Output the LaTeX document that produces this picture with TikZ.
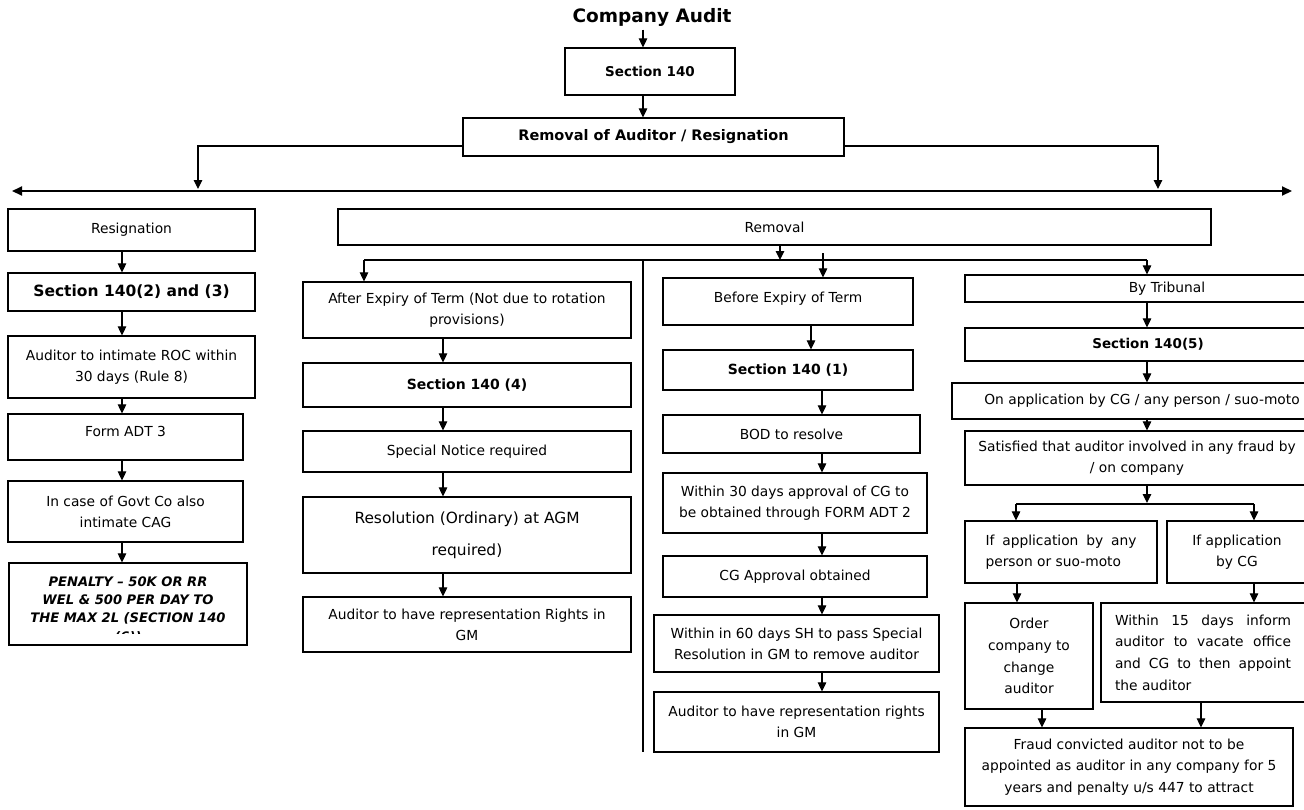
\documentclass[tikz,border=0pt]{standalone}
\usepackage{fontspec}
\setmainfont{DejaVu Sans}
\usetikzlibrary{arrows.meta}
\hyphenpenalty=10000
\exhyphenpenalty=10000
\begin{document}
\begin{tikzpicture}[x=1pt,y=-1pt,
 box/.style={draw,line width=1.2pt,inner sep=2pt,align=center,font=\fontsize{13.8}{21}\selectfont},
 bbox/.style={box,font=\fontsize{14.5}{18}\selectfont\bfseries},
 arr/.style={line width=1.1pt,-{Triangle[width=8.5pt,length=9pt]}},
 ln/.style={line width=1.1pt},
]
\useasboundingbox (0,0) rectangle (1304,809);
\fill[white] (0,0) rectangle (1304,809);

% ---------- top ----------
\node[font=\fontsize{18.5}{22}\selectfont\bfseries] (title) at (652,17) {Company Audit};
\node[bbox,minimum width=170pt,minimum height=47pt,font=\fontsize{13.5}{16}\selectfont\bfseries] (s140) at (650,71.5) {Section 140};
\node[bbox,minimum width=381pt,minimum height=38pt] (rem) at (653.5,137) {Removal of Auditor / Resignation};
\coordinate (tx) at (643,0);
\draw[arr] (title.south -| tx) -- (s140.north -| tx);
\draw[arr] (s140.south -| tx) -- (rem.north -| tx);
\coordinate (lrow) at (0,146);
\coordinate (dtl) at (198,189);
\coordinate (dtr) at (1158,189);
\draw[arr] (rem.west |- lrow) -| (dtl);
\draw[arr] (rem.east |- lrow) -| (dtr);
\coordinate (dl) at (12,191);
\coordinate (dr) at (1292,191);
\draw[line width=2pt,{Triangle[width=9pt,length=10pt]}-{Triangle[width=9pt,length=10pt]}] (dl) -- (dr);

% ---------- resignation column ----------
\coordinate (lx) at (122,0);
\node[box,minimum width=247pt,minimum height=42pt] (resig) at (131.5,230) {Resignation};
\node[bbox,minimum width=247pt,minimum height=38pt,font=\fontsize{15.5}{18}\selectfont\bfseries] (s1402) at (131.5,292) {Section 140(2) and (3)};
\node[box,minimum width=247pt,minimum height=62pt] (intim) at (131.5,367) {Auditor to intimate ROC within\\30 days (Rule 8)};
\node[box,minimum width=235pt,minimum height=46pt,text depth=11pt] (form) at (125.5,437) {Form ADT 3};
\node[box,minimum width=235pt,minimum height=61pt] (govt) at (125.5,511.5) {In case of Govt Co also\\intimate CAG};
\node[box,minimum width=238pt,minimum height=82pt] (pen) at (128,604) {};
\begin{scope}
\clip (pen.north west) rectangle ([yshift=12pt]pen.south east);
\node[font=\fontsize{13.1}{18.3}\selectfont\bfseries\itshape,align=center,anchor=north] (pentxt) at ([yshift=-10.5pt]pen.north) {PENALTY -- 50K OR RR\\WEL \& 500 PER DAY TO\\THE MAX 2L (SECTION 140\\(6))};
\end{scope}
\draw[arr] (resig.south -| lx) -- (s1402.north -| lx);
\draw[arr] (s1402.south -| lx) -- (intim.north -| lx);
\draw[arr] (intim.south -| lx) -- (form.north -| lx);
\draw[arr] (form.south -| lx) -- (govt.north -| lx);
\draw[arr] (govt.south -| lx) -- (pen.north -| lx);

% ---------- removal ----------
\node[box,minimum width=873pt,minimum height=36pt] (remv) at (774.5,227) {Removal};
\coordinate (rs) at (780,260);
\draw[arr] (remv.south -| rs) -- (rs);
\coordinate (ha) at (364,260);
\coordinate (hb) at (1147,260);
\coordinate (hc) at (823,253);
\coordinate (sepT) at (643,260);
\coordinate (sepB) at (643,752);
\draw[ln] (ha) -- (hb);
\draw[ln] (sepT) -- (sepB);

% column A : after expiry
\coordinate (ax) at (443,0);
\node[box,minimum width=328pt,minimum height=56pt] (after) at (467,310) {After Expiry of Term (Not due to rotation\\provisions)};
\node[bbox,minimum width=328pt,minimum height=44pt,font=\fontsize{14}{18}\selectfont\bfseries] (s1404) at (467,385) {Section 140 (4)};
\node[box,minimum width=328pt,minimum height=41pt] (spn) at (467,451.5) {Special Notice required};
\node[box,minimum width=328pt,minimum height=76pt,font=\fontsize{15.4}{32}\selectfont] (resol) at (467,535) {Resolution (Ordinary) at AGM\\required)};
\node[box,minimum width=328pt,minimum height=55pt] (arep) at (467,624.5) {Auditor to have representation Rights in\\GM};
\draw[arr] (ha) -- (after.north -| ha);
\draw[arr] (after.south -| ax) -- (s1404.north -| ax);
\draw[arr] (s1404.south -| ax) -- (spn.north -| ax);
\draw[arr] (spn.south -| ax) -- (resol.north -| ax);
\draw[arr] (resol.south -| ax) -- (arep.north -| ax);

% column B : before expiry
\coordinate (bx1) at (811,0);
\coordinate (bx) at (822,0);
\node[box,minimum width=250pt,minimum height=47pt,text depth=9pt] (before) at (788,301.5) {Before Expiry of Term};
\node[bbox,minimum width=250pt,minimum height=40pt,font=\fontsize{14}{18}\selectfont\bfseries] (s1401) at (788,370) {Section 140 (1)};
\node[box,minimum width=257pt,minimum height=38pt] (bod) at (791.5,434) {BOD to resolve};
\node[box,minimum width=264pt,minimum height=60pt] (w30) at (795,503) {Within 30 days approval of CG to\\be obtained through FORM ADT 2};
\node[box,minimum width=264pt,minimum height=41pt] (cga) at (795,576.5) {CG Approval obtained};
\node[box,minimum width=285pt,minimum height=57pt] (w60) at (796.5,643.5) {Within in 60 days SH to pass Special\\Resolution in GM to remove auditor};
\node[box,minimum width=285pt,minimum height=60pt] (brep) at (796.5,722) {Auditor to have representation rights\\in GM};
\draw[arr] (hc) -- (before.north -| hc);
\draw[arr] (before.south -| bx1) -- (s1401.north -| bx1);
\draw[arr] (s1401.south -| bx) -- (bod.north -| bx);
\draw[arr] (bod.south -| bx) -- (w30.north -| bx);
\draw[arr] (w30.south -| bx) -- (cga.north -| bx);
\draw[arr] (cga.south -| bx) -- (w60.north -| bx);
\draw[arr] (w60.south -| bx) -- (brep.north -| bx);

% column C : tribunal
\node[box,minimum width=404pt,minimum height=27pt] (trib) at (1167,288.5) {By Tribunal};
\node[bbox,minimum width=366pt,minimum height=33pt,font=\fontsize{13.5}{18}\selectfont\bfseries] (s1405) at (1148,344.5) {Section 140(5)};
\node[box,minimum width=380pt,minimum height=36pt] (onapp) at (1142,401) {On application by CG / any person / suo-moto};
\node[box,minimum width=344pt,minimum height=54pt] (satis) at (1137,458) {Satisfied that auditor involved in any fraud by\\/ on company};
\draw[arr] (hb) -- (trib.north -| hb);
\draw[arr] (trib.south -| hb) -- (s1405.north -| hb);
\draw[arr] (s1405.south -| hb) -- (onapp.north -| hb);
\draw[arr] (onapp.south -| hb) -- (satis.north -| hb);
\coordinate (sp) at (1147,503);
\coordinate (spl) at (1016,504);
\coordinate (spr) at (1254,504);
\draw[arr] (satis.south -| sp) -- (sp);
\draw[ln] (spl) -- (spr);
\node[box,text width=151pt,inner xsep=20.5pt,minimum height=62pt,align=justify] (ifany) at (1061,552) {If application by any person or suo-moto};
\node[box,minimum width=140pt,minimum height=62pt] (ifcg) at (1237,552) {If application\\by CG};
\draw[arr] (spl) -- (ifany.north -| spl);
\draw[arr] (spr) -- (ifcg.north -| spr);
\coordinate (ox1) at (1017,0);
\coordinate (ox2) at (1254,0);
\node[box,minimum width=128pt,minimum height=106pt,font=\fontsize{13.8}{21.7}\selectfont] (order) at (1029,656) {Order\\company to\\change\\auditor};
\node[box,text width=176pt,inner xsep=14pt,minimum height=99pt,align=justify,font=\fontsize{13.8}{21.7}\selectfont] (w15) at (1203,652.5) {Within 15 days inform auditor to vacate office and CG to then appoint the auditor};
\draw[arr] (ifany.south -| ox1) -- (order.north -| ox1);
\draw[arr] (ifcg.south -| ox2) -- (w15.north -| ox2);
\node[box,minimum width=328pt,minimum height=78pt,font=\fontsize{13.8}{21.7}\selectfont] (fraud) at (1129,767) {Fraud convicted auditor not to be\\appointed as auditor in any company for 5\\years and penalty u/s 447 to attract};
\coordinate (fx1) at (1042,0);
\coordinate (fx2) at (1201,0);
\draw[arr] (order.south -| fx1) -- (fraud.north -| fx1);
\draw[arr] (w15.south -| fx2) -- (fraud.north -| fx2);
\end{tikzpicture}
\end{document}
